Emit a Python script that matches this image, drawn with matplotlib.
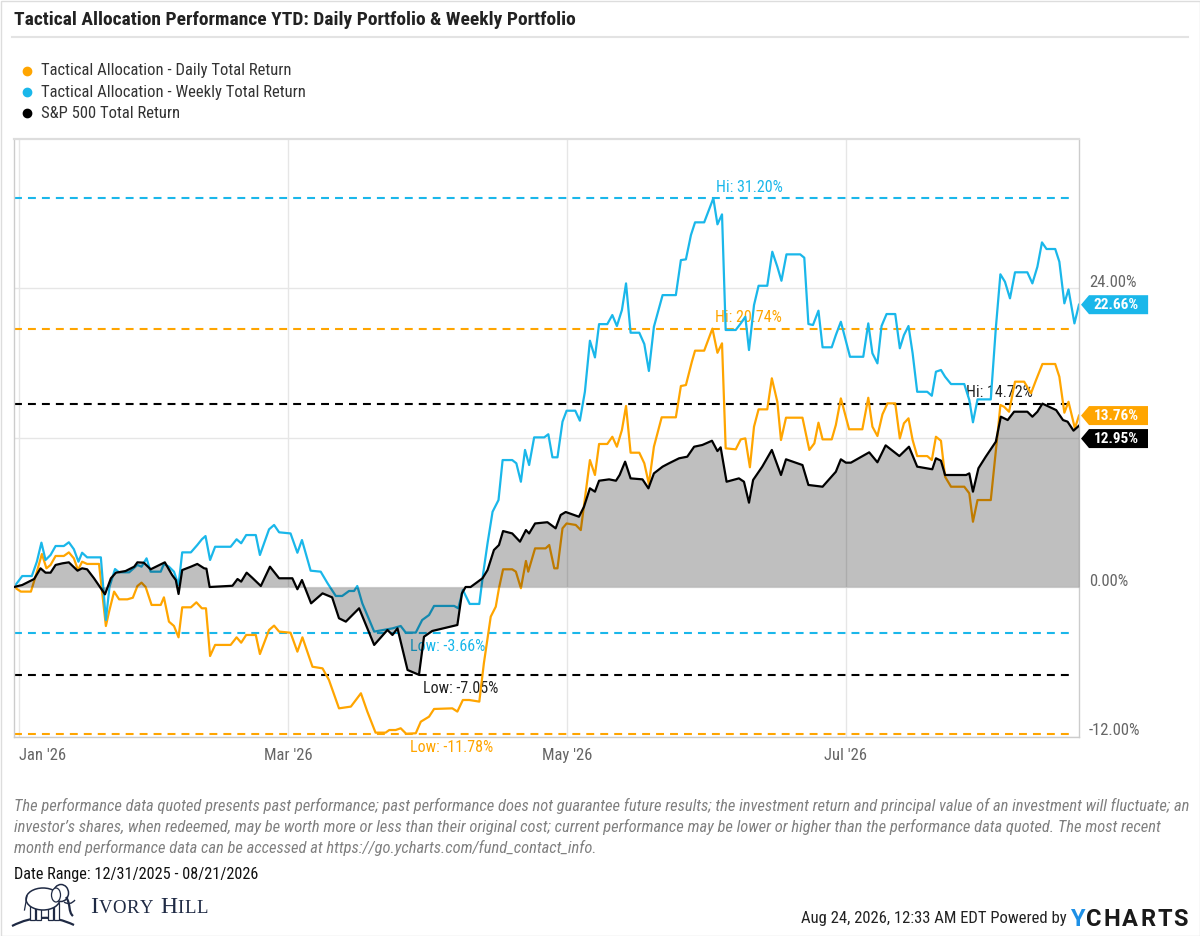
import numpy as np
import pandas as pd
import matplotlib
matplotlib.use("Agg")
import matplotlib.pyplot as plt
import matplotlib.dates as mdates
import matplotlib.transforms as mtransforms
from matplotlib.path import Path
from matplotlib.lines import Line2D
from matplotlib.patches import Ellipse, Rectangle, PathPatch
import logging
logging.getLogger("matplotlib.font_manager").setLevel(logging.ERROR)

plt.rcParams["font.family"] = ["Roboto Condensed", "Liberation Sans Narrow", "Roboto", "DejaVu Sans"]

# ---------------- data ----------------
TITLE = "Tactical Allocation Performance YTD: Daily Portfolio & Weekly Portfolio"
START_DATE = "2025-12-31"
END_DATE = "2026-08-21"
series_names = ["Tactical Allocation - Daily Total Return",
                "Tactical Allocation - Weekly Total Return",
                "S&P 500 Total Return"]
series_colors = ["#ffa500", "#1ab7ea", "#000000"]

# (days since 2025-12-31, total return %)
daily_points = [
    (0.0, 0.00), (1.5, -0.37), (3.7, -0.37), (4.8, 0.96), (6.1, 2.65), (7.1, 1.50), (8.0, 1.77), (9.1, 2.49), (10.9, 2.49), (12.0, 2.78),
    (13.1, 2.30), (14.0, 1.36), (14.9, 2.03), (16.0, 1.85), (18.6, 1.85), (20.1, -3.13), (20.8, -1.98), (21.9, -0.37), (23.0, -0.99), (24.8, -0.99),
    (26.0, -0.86), (27.0, 0.08), (27.9, 0.35), (28.8, 0.00), (30.1, -1.44), (32.1, -1.44), (32.8, -0.83), (33.9, -2.78), (35.0, -3.13), (36.0, -4.04),
    (36.8, -1.63), (38.7, -1.63), (39.9, -1.23), (41.1, -1.71), (42.0, -1.71), (42.9, -5.54), (44.0, -4.65), (47.4, -4.65), (48.7, -4.04), (49.7, -4.47),
    (50.8, -3.85), (52.9, -3.85), (53.8, -5.38), (55.8, -3.45), (56.9, -3.10), (58.0, -3.58), (60.5, -3.67), (62.0, -5.19), (63.1, -4.04), (65.3, -6.40),
    (67.5, -6.53), (68.9, -7.46), (71.1, -9.74), (73.7, -9.60), (75.9, -8.53), (77.3, -10.00), (79.1, -11.69), (81.3, -11.69), (82.1, -11.48), (83.5, -11.48),
    (84.6, -11.34), (85.8, -11.78), (87.9, -11.74), (89.0, -10.81), (90.8, -10.41), (91.9, -9.79), (95.9, -9.74), (97.0, -10.00), (98.2, -9.07), (99.6, -9.07),
    (101.8, -9.20), (102.8, -6.12), (104.3, -2.38), (105.4, -1.58), (106.1, -0.10), (107.0, 1.42), (109.0, 1.42), (109.8, 1.23), (110.9, -0.10), (112.0, 2.09),
    (112.5, 1.23), (114.0, 3.10), (116.3, 3.10), (117.1, 3.37), (118.2, 1.50), (118.9, 1.50), (120.0, 4.71), (120.9, 5.10), (122.9, 4.98), (124.0, 4.57),
    (126.0, 10.19), (127.1, 8.99), (128.0, 11.48), (129.8, 11.48), (130.9, 12.06), (131.9, 11.26), (133.0, 12.60), (133.9, 14.53), (134.9, 10.78), (136.8, 10.78),
    (137.9, 9.93), (138.9, 8.27), (140.0, 11.26), (141.7, 13.62), (144.8, 13.62), (145.9, 16.13), (147.0, 16.21), (148.3, 18.08), (149.0, 18.97), (151.0, 18.97),
    (152.8, 20.74), (153.9, 18.80), (154.9, 19.56), (155.7, 11.13), (157.9, 11.05), (159.0, 11.85), (160.0, 11.93), (161.0, 9.61), (161.9, 12.87), (162.9, 14.26),
    (164.8, 14.26), (165.8, 16.75), (167.0, 14.87), (167.8, 11.80), (168.9, 13.59), (172.5, 13.59), (174.0, 11.00), (175.1, 11.53), (176.0, 13.19), (176.9, 11.85),
    (178.9, 11.85), (179.8, 13.00), (180.9, 15.14), (182.7, 12.66), (185.6, 12.66), (186.9, 15.19), (187.8, 12.87), (188.9, 12.12), (190.0, 13.86), (191.1, 14.74),
    (192.8, 14.74), (193.8, 11.93), (194.7, 13.14), (195.7, 13.54), (196.6, 11.80), (197.6, 10.51), (199.8, 10.51), (200.8, 10.19), (201.7, 12.06), (202.8, 11.74),
    (203.7, 8.85), (205.0, 8.05), (207.9, 8.05), (209.0, 7.52), (209.8, 5.24), (210.8, 6.98), (213.7, 6.98), (215.2, 12.34), (215.8, 14.61), (216.6, 14.47),
    (217.7, 14.07), (219.0, 16.48), (221.0, 16.48), (222.5, 15.55), (223.6, 16.61), (225.0, 17.90), (227.8, 17.90), (228.7, 16.88), (229.8, 13.99), (230.7, 14.87),
    (232.1, 12.74), (233.0, 13.76),
]

weekly_points = [
    (0.0, 0.00), (1.8, 0.88), (3.9, 0.88), (5.0, 2.03), (6.0, 3.56), (6.9, 2.17), (8.0, 2.57), (9.1, 3.29), (10.9, 3.29), (12.0, 3.59),
    (13.1, 3.03), (14.1, 2.03), (14.9, 2.75), (16.0, 2.38), (19.0, 2.38), (20.1, -2.65), (20.9, 0.03), (22.1, 1.44), (23.0, 1.18), (25.2, 1.18),
    (27.0, 1.77), (27.9, 1.63), (29.0, 2.30), (29.9, 1.23), (32.1, 1.23), (32.8, 1.85), (33.9, 1.63), (35.0, 1.23), (36.0, 0.16), (36.8, 2.78),
    (38.7, 2.78), (40.1, 3.37), (41.1, 3.83), (41.9, 4.09), (42.9, 2.17), (44.0, 3.23), (47.4, 3.23), (48.7, 3.83), (49.7, 3.51), (50.8, 4.17),
    (52.9, 4.17), (53.8, 2.57), (55.8, 4.63), (56.9, 4.98), (58.0, 4.39), (60.5, 4.30), (62.0, 2.75), (63.0, 3.77), (64.9, 1.31), (67.1, 1.23),
    (68.6, 0.30), (70.4, -0.72), (71.8, -0.72), (73.3, -0.32), (74.4, -0.32), (75.1, 0.08), (76.2, -1.31), (78.8, -3.58), (82.8, -3.32), (84.6, -3.13),
    (85.7, -3.66), (87.9, -3.66), (89.3, -2.65), (90.8, -2.25), (91.9, -1.52), (96.3, -1.52), (97.2, -1.71), (98.2, -0.24), (99.7, -1.36), (101.8, -1.36),
    (102.6, 0.96), (103.6, 3.51), (104.7, 6.04), (106.0, 6.98), (106.9, 10.19), (109.0, 10.19), (109.9, 9.93), (110.9, 8.45), (111.8, 11.00), (112.7, 9.79),
    (113.8, 12.01), (116.0, 12.01), (116.9, 12.26), (117.8, 10.41), (118.9, 10.41), (120.0, 13.27), (120.9, 14.15), (122.8, 14.15), (123.8, 13.35), (124.9, 15.67),
    (126.0, 19.77), (127.1, 18.43), (128.0, 21.10), (129.8, 21.10), (130.9, 21.83), (131.9, 20.95), (133.0, 22.23), (133.9, 24.37), (134.9, 20.41), (136.8, 20.41),
    (137.9, 19.50), (138.9, 17.34), (140.0, 20.89), (141.9, 23.43), (144.8, 23.43), (145.9, 26.24), (147.0, 26.30), (148.1, 28.25), (149.0, 29.27), (151.0, 29.27),
    (153.0, 31.20), (153.9, 29.11), (154.9, 29.91), (155.7, 20.63), (157.9, 20.63), (159.0, 21.16), (160.0, 21.69), (160.8, 19.02), (161.9, 22.63), (162.9, 24.18),
    (164.8, 24.18), (165.9, 26.91), (167.0, 25.71), (167.9, 24.58), (169.0, 26.70), (172.0, 26.70), (172.9, 26.43), (173.8, 21.11), (174.8, 21.03), (176.0, 22.18),
    (176.9, 19.24), (178.9, 19.24), (179.8, 20.22), (180.9, 21.29), (182.9, 18.48), (185.8, 18.48), (186.9, 21.16), (187.8, 18.76), (188.9, 17.95), (189.8, 20.95),
    (190.9, 21.91), (192.8, 21.91), (193.8, 19.16), (194.7, 20.22), (195.7, 20.95), (196.6, 18.76), (197.6, 15.67), (199.8, 15.67), (200.8, 15.35), (201.7, 17.28),
    (202.8, 17.42), (203.7, 16.88), (205.0, 16.29), (207.9, 16.29), (209.0, 15.01), (209.8, 13.22), (210.8, 15.06), (213.7, 15.06), (214.8, 20.76), (215.8, 25.10),
    (216.8, 24.50), (217.9, 23.17), (219.0, 25.26), (221.7, 25.26), (222.8, 24.37), (223.9, 25.71), (224.9, 27.66), (225.9, 27.13), (227.8, 27.13), (228.7, 26.11),
    (229.8, 22.77), (230.7, 23.89), (232.0, 21.16), (233.0, 22.66),
]

sp500_points = [
    (0.0, 0.00), (1.8, 0.16), (4.4, 0.64), (5.8, 1.50), (6.9, 1.15), (8.0, 1.15), (9.1, 1.77), (10.6, 1.90), (12.0, 1.98), (13.9, 1.31),
    (14.9, 1.50), (16.0, 1.42), (17.5, 0.70), (19.0, -0.10), (19.9, -0.59), (21.2, 0.70), (22.3, 1.15), (24.4, 1.28), (26.3, 1.63), (27.0, 1.98),
    (28.4, 1.95), (29.9, 1.42), (31.4, 1.69), (33.0, 1.98), (34.6, 0.96), (35.4, 0.56), (36.0, -0.56), (36.8, 1.36), (38.7, 1.63), (40.1, 1.85),
    (41.6, 1.50), (42.1, 1.47), (42.8, 0.00), (47.8, 0.10), (48.9, 0.64), (49.7, 0.43), (50.9, 1.15), (52.1, 0.75), (54.0, 0.08), (56.0, 1.63),
    (58.0, 0.70), (60.9, 0.70), (62.0, -0.18), (63.0, 0.56), (65.0, -1.31), (67.5, -0.51), (69.6, -0.83), (71.1, -2.51), (72.6, -2.78), (75.5, -1.71),
    (77.0, -3.05), (78.8, -4.65), (81.7, -3.45), (82.8, -3.85), (83.9, -3.32), (86.1, -6.66), (88.6, -7.05), (89.7, -3.99), (91.5, -3.53), (97.0, -3.05),
    (98.0, -0.51), (98.8, 0.00), (99.9, 0.00), (102.5, 0.70), (103.6, 1.36), (105.0, 2.97), (106.1, 3.37), (107.0, 4.49), (109.0, 4.30), (110.7, 3.64),
    (112.0, 4.57), (112.7, 4.30), (114.0, 5.10), (116.7, 5.20), (118.5, 4.71), (119.6, 5.78), (120.7, 6.02), (123.6, 5.64), (124.7, 6.44), (126.0, 7.92),
    (127.1, 7.65), (128.0, 8.53), (130.2, 8.64), (131.7, 8.53), (132.5, 8.99), (133.7, 10.06), (134.9, 8.72), (137.5, 8.64), (138.8, 7.92), (140.0, 9.12),
    (141.9, 9.66), (143.3, 9.93), (145.5, 10.33), (147.3, 10.46), (148.8, 11.26), (150.6, 11.40), (152.7, 11.74), (153.9, 10.91), (154.6, 11.21), (155.9, 8.45),
    (158.6, 8.72), (159.7, 8.45), (160.8, 6.77), (161.7, 8.59), (163.7, 9.66), (165.8, 11.00), (167.0, 9.79), (167.8, 8.99), (168.9, 10.25), (172.5, 9.79),
    (173.8, 8.19), (176.9, 8.05), (179.8, 9.25), (180.9, 10.25), (182.0, 9.98), (183.1, 9.98), (187.1, 10.81), (188.9, 10.01), (190.7, 11.37), (193.7, 10.51),
    (195.8, 11.26), (197.6, 9.66), (200.9, 9.45), (201.7, 10.33), (202.8, 10.14), (203.7, 8.99), (208.3, 8.99), (209.0, 9.12), (209.8, 7.65), (211.0, 9.53),
    (212.6, 10.46), (214.8, 11.66), (215.9, 13.67), (217.4, 13.40), (218.8, 14.07), (221.7, 14.07), (222.8, 13.67), (223.9, 14.07), (225.0, 14.72), (228.0, 14.20),
    (229.5, 13.40), (230.5, 13.27), (231.8, 12.55), (233.0, 12.95),
]

x_tick_dates = ["2026-01-01", "2026-03-01", "2026-05-01", "2026-07-01"]
x_tick_labels = ["Jan '26", "Mar '26", "May '26", "Jul '26"]
y_grid_values = [-12, 0, 12, 24]
y_label_values = [24, 0, -12]
Y_MIN, Y_MAX = -12.04, 35.96

disclaimer_lines = [
    "The performance data quoted presents past performance; past performance does not guarantee future results; the investment return and principal value of an investment will fluctuate; an",
    "investor\u2019s shares, when redeemed, may be worth more or less than their original cost; current performance may be lower or higher than the performance data quoted. The most recent",
    "month end performance data can be accessed at https://go.ycharts.com/fund_contact_info.",
]
date_range_text = "Date Range: 12/31/2025 - 08/21/2026"
timestamp_text = "Aug 24, 2026, 12:33 AM EDT Powered by"

# ---------------- figure ----------------
W, H = 1200, 936
fig = plt.figure(figsize=(W / 100, H / 100), dpi=100)
fig.patch.set_facecolor("white")


def fx(px):
    return px / W


def fy(py):
    return 1 - py / H


PIX = mtransforms.Affine2D().scale(1, -1).translate(0, H)  # pixel coords, top-left origin

ax = fig.add_axes([fx(14), fy(737), fx(1079) - fx(14), fy(139) - fy(737)])
ax.set_facecolor("white")

start_num = mdates.date2num(pd.Timestamp(START_DATE))
end_num = mdates.date2num(pd.Timestamp(END_DATE))
ax.set_xlim(start_num, end_num)
ax.set_ylim(Y_MIN, Y_MAX)

series = []
for pts in (daily_points, weekly_points, sp500_points):
    d = np.array([p[0] for p in pts])
    v = np.array([p[1] for p in pts])
    series.append((start_num + d, v))

# grid
for g in y_grid_values:
    ax.axhline(g, color="#e6e6e6", lw=1.0, zorder=0)
tick_nums = [mdates.date2num(pd.Timestamp(t)) for t in x_tick_dates]
for t in tick_nums:
    ax.axvline(t, color="#e6e6e6", lw=1.0, zorder=0)

# hi / low dashed lines
for (xs, vs), c in zip(series, series_colors):
    for val in (vs.max(), vs.min()):
        ax.axhline(val, xmin=0, xmax=0.9944, color=c, lw=1.5,
                   linestyle=(0, (3.8, 2.9)), zorder=1.5)

# lines
(xd, vd), (xw, vw), (xs_, vs_) = series
ax.plot(xd, vd, color=series_colors[0], lw=1.6, zorder=2, solid_joinstyle="round")
ax.plot(xw, vw, color=series_colors[1], lw=1.6, zorder=2.1, solid_joinstyle="round")
ax.fill_between(xs_, vs_, 0, color="black", alpha=0.25, lw=0, zorder=3)
ax.plot(xs_, vs_, color=series_colors[2], lw=1.6, zorder=4, solid_joinstyle="round")

# spines / ticks
for s in ("left", "right", "bottom"):
    ax.spines[s].set_color("#cccccc")
    ax.spines[s].set_linewidth(1.0)
ax.spines["top"].set_color("#dddddd")
ax.spines["top"].set_linewidth(1.6)
ax.set_yticks([])
ax.set_xticks(tick_nums)
ax.set_xticklabels(x_tick_labels, color="#666666", fontsize=12)
ax.tick_params(axis="x", length=0, pad=8)
ax.get_xticklabels()[0].set_horizontalalignment("left")

# right axis labels
ylab_trans = mtransforms.offset_copy(ax.get_yaxis_transform(), fig=fig, y=6, units="dots")
for v in y_label_values:
    ax.text(1.0094, v, f"{v:.2f}%", transform=ylab_trans, ha="left", va="center",
            color="#666666", fontsize=12, clip_on=False)

# hi / low labels
label_colors = [series_colors[0], series_colors[1], "#222222"]
x_span = end_num - start_num
for (xs, vs), c in zip(series, label_colors):
    i_hi = int(np.argmax(vs))
    i_lo = int(np.argmin(vs))
    if xs[i_hi] - start_num > 0.9 * x_span:
        ha, off = "right", (-10, 11)
    else:
        ha, off = "left", (3, 11)
    ax.annotate(f"Hi: {vs[i_hi]:.2f}%", xy=(xs[i_hi], vs[i_hi]), xytext=off,
                textcoords="offset pixels", ha=ha, va="center", color=c,
                fontsize=11.5, annotation_clip=False, zorder=1.8)
    ax.annotate(f"Low: {vs[i_lo]:.2f}%", xy=(xs[i_lo], vs[i_lo]), xytext=(4, -14),
                textcoords="offset pixels", ha="left", va="center", color=c,
                fontsize=11.5, annotation_clip=False, zorder=1.8)


# end value tags
def tag_box(x0, y0, width, height, mutation_size):
    pl, pr, pv = 5, 9, 2.5
    left, right = x0 - pl, x0 + width + pr
    bot, top = y0 - pv, y0 + height + pv
    tip = left - (top - bot) * 0.42
    mid = (bot + top) / 2
    verts = [(left, bot), (right, bot), (right, top), (left, top), (tip, mid), (left, bot)]
    codes = [Path.MOVETO] + [Path.LINETO] * 4 + [Path.CLOSEPOLY]
    return Path(verts, codes)


bbox_ax = ax.get_window_extent()
pix_per_unit = bbox_ax.height / (Y_MAX - Y_MIN)
ends = [(vs[-1], c) for (xs, vs), c in zip(series, series_colors)]
order = sorted(range(len(ends)), key=lambda k: -ends[k][0])
placed = []
min_sep = 23.0
for k in order:
    val, c = ends[k]
    ypix = val * pix_per_unit
    if placed and placed[-1] - ypix < min_sep:
        ypix = placed[-1] - min_sep
    placed.append(ypix)
    dy = ypix - val * pix_per_unit
    ax.annotate(f"{val:.2f}%", xy=(1, val), xycoords=("axes fraction", "data"),
                xytext=(15, dy), textcoords="offset pixels", ha="left", va="center",
                color="white", fontsize=11, fontweight="bold", annotation_clip=False,
                zorder=6, bbox=dict(boxstyle=tag_box, fc=c, ec="none"))

# ---------------- title & legend ----------------
renderer = fig.canvas.get_renderer()


def fit_width(t, target):
    w = t.get_window_extent(renderer).width
    if w > target:
        t.set_fontsize(t.get_fontsize() * target / w)
    return t


title = fig.text(fx(14), fy(20), TITLE, ha="left", va="center", fontsize=14,
                 fontweight="bold", color="#222222")
fit_width(title, 574)
fig.add_artist(Line2D([12, 1188], [37, 37], transform=PIX, color="#e3e3e3", lw=1.5))

for i, (name, c) in enumerate(zip(series_names, series_colors)):
    yy = 71 + 21 * i
    fig.add_artist(Line2D([27], [yy], transform=PIX, marker="o", ms=6, color=c, lw=0))
    fig.text(fx(41), fy(yy), name, ha="left", va="center", fontsize=12, color="#333333")

# ---------------- footer ----------------
disc = []
for i, line in enumerate(disclaimer_lines):
    disc.append(fig.text(fx(14), fy(806 + 21 * i), line, ha="left", va="center",
                         fontsize=12, style="italic", color="#808080"))
w0 = disc[0].get_window_extent(renderer).width
if w0 > 1172:
    for t in disc:
        t.set_fontsize(12 * 1172 / w0)

dr = fig.text(fx(14), fy(875), date_range_text, ha="left", va="center", fontsize=12,
              color="#111111")
fit_width(dr, 242)

ts = fig.text(fx(1067), fy(918), timestamp_text, ha="right", va="center", fontsize=12,
              color="#222222")
fit_width(ts, 270)


def place_tracked(parts, x0, x1, y_base, family, weight="normal"):
    """Place characters in sequence (pixel coords) and spread them to x0..x1."""
    items = []
    for txt, size, color in parts:
        for ch in txt:
            t = fig.text(0, 0, ch, fontsize=size, color=color, family=family,
                         fontweight=weight, ha="left", va="baseline")
            items.append(t)
    widths = [t.get_window_extent(renderer).width if t.get_text().strip() else 6
              for t in items]
    gap = (x1 - x0 - sum(widths)) / max(len(items) - 1, 1)
    x = x0
    for t, w in zip(items, widths):
        t.set_position((fx(x), fy(y_base)))
        x += w + gap


place_tracked([("Y", 17, "#1e90e6"), ("CHARTS", 17, "#1a1a1a")], 1070, 1188, 926,
              ["Roboto", "DejaVu Sans"], weight="bold")

navy = "#1f2a44"
place_tracked([("I", 17, navy), ("VORY", 13.5, navy), (" ", 13.5, navy),
               ("H", 17, navy), ("ILL", 13.5, navy)], 90, 208, 913,
              ["Liberation Serif", "DejaVu Serif"])

# elephant logo (simple line drawing)
ground = Path([(12, 926), (43, 910), (74, 925)], [Path.MOVETO, Path.CURVE3, Path.CURVE3])
fig.add_artist(PathPatch(ground, transform=PIX, fill=False, ec=navy, lw=1.6))
for lx in (30, 36, 48, 54):
    fig.add_artist(Rectangle((lx, 903), 5, 17, transform=PIX, fc="white", ec=navy, lw=0.9))
fig.add_artist(Ellipse((43, 899), 34, 22, transform=PIX, fc="white", ec=navy, lw=1.1))
fig.add_artist(Line2D([27, 24.5], [896, 910], transform=PIX, color=navy, lw=0.9))
fig.add_artist(Ellipse((61, 893), 15, 17, transform=PIX, fc="white", ec=navy, lw=1.1))
fig.add_artist(Ellipse((56, 895), 9, 14, transform=PIX, fc="white", ec=navy, lw=0.9))
trunk = Path([(66, 897), (71, 904), (68, 912), (73, 916)],
             [Path.MOVETO, Path.CURVE4, Path.CURVE4, Path.CURVE4])
fig.add_artist(PathPatch(trunk, transform=PIX, fill=False, ec=navy, lw=1.6))
tusk = Path([(64, 902), (70, 906), (75, 900)], [Path.MOVETO, Path.CURVE3, Path.CURVE3])
fig.add_artist(PathPatch(tusk, transform=PIX, fill=False, ec=navy, lw=1.0))
fig.add_artist(Line2D([20, 20], [897, 912], transform=PIX, color=navy, lw=0.6, alpha=0))

# outer border
fig.add_artist(Rectangle((0.5, 0.5), W - 1, H - 1, transform=mtransforms.IdentityTransform(),
                         fill=False, ec="#dddddd", lw=1.0))

fig.savefig("out.png", dpi=100, facecolor="white")
